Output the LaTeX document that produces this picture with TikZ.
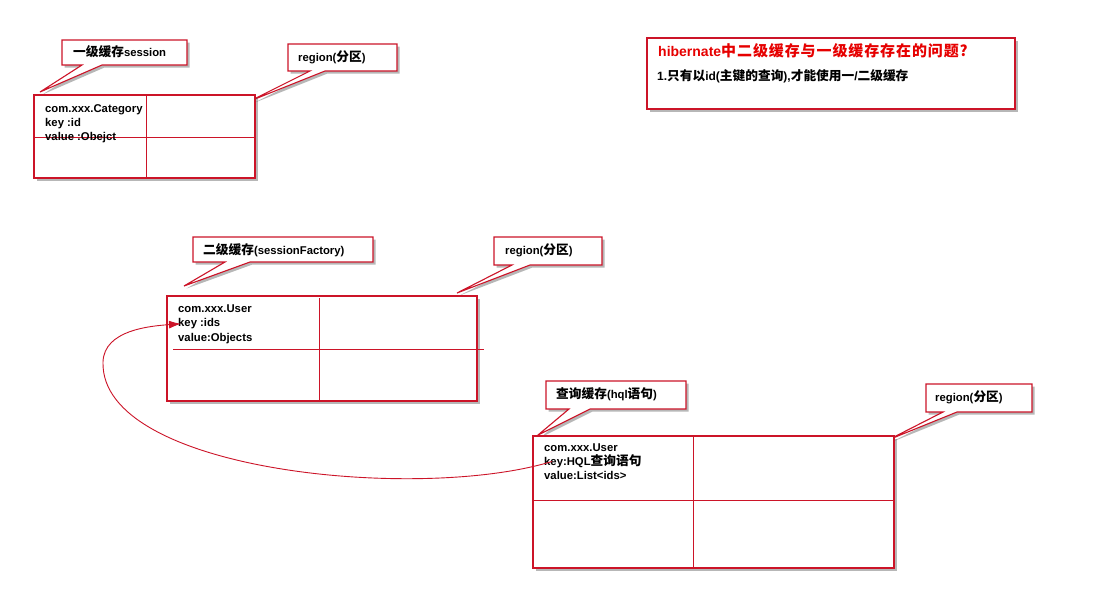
\documentclass[tikz,border=0pt]{standalone}
\usepackage{fontspec}
\setmainfont{Liberation Sans}
\newfontfamily\cjk{Noto Sans CJK SC}
\newfontfamily\cjkwide{Noto Sans CJK SC}[LetterSpace=6]
\usetikzlibrary{shadows,arrows.meta}
\definecolor{lred}{RGB}{204,20,40}
\definecolor{tred}{RGB}{230,0,0}
\newcommand{\zh}[1]{{\fontsize{12.7}{14}\selectfont\cjk\bfseries #1}}
\newcommand{\zhbig}[1]{{\fontsize{15}{18}\selectfont\cjkwide\bfseries #1}}
\tikzset{
 frame/.style={draw=lred, line width=1.1pt, fill=white, drop shadow={shadow xshift=2.5pt, shadow yshift=-2.5pt, opacity=0.4, fill=black!70}},
 divider/.style={draw=lred, line width=1pt},
 txt/.style={anchor=base west, inner sep=0pt, font=\fontsize{11.3}{14}\selectfont\bfseries},
 link/.style={draw=lred, line width=0.9pt, -{Latex[length=12pt,width=8pt]}},
}
\begin{document}
\begin{tikzpicture}[x=1pt,y=-1pt]
\path[use as bounding box, fill=white] (0,0) rectangle (1094,606);

% ---------- first-level cache ----------
\path[frame] (62,40) -- (187,40) -- (187,65) -- (102,65) -- (40,92) -- (82,65) -- (62,65) -- cycle;
\node[txt] (c1) at (73,56.7) {\zh{一级缓存}session};
\path[frame] (288,44) -- (397,44) -- (397,71) -- (325,71) -- (250,101) -- (310,71) -- (288,71) -- cycle;
\node[txt] (r1) at (298,61.7) {region(\zh{分区})};
\path[frame] (34,95) rectangle (255,178);
\draw[divider] (146,95) -- (146,178);
\draw[divider] (34,137) -- (255,137);
\node[txt] (a1) at (45,112.5) {com.xxx.Category};
\node[txt] (a2) at (45,126) {key :id};
\node[txt] (a3) at (45,140) {value :Obejct};

% ---------- title ----------
\path[frame] (647,38) rectangle (1015,109);
\node[anchor=base west, inner sep=0pt, text=tred, font=\fontsize{14}{18}\selectfont\bfseries] (t1) at (658,56.7)
  {hibernate\zhbig{中二级缓存与一级缓存存在的问题?}};
\node[anchor=base west, inner sep=0pt, font=\fontsize{12}{14}\selectfont\bfseries] (t2) at (657,80)
  {1.\zh{只有以}id(\zh{主键的查询}),\zh{才能使用一}/\zh{二级缓存}};

% ---------- second-level cache ----------
\path[frame] (193,237) -- (373,237) -- (373,262) -- (250,262) -- (184,286) -- (225,262) -- (193,262) -- cycle;
\node[txt] (c2) at (203,254) {\zh{二级缓存}(sessionFactory)};
\path[frame] (494,237) -- (602,237) -- (602,265) -- (530,265) -- (457,293) -- (512,265) -- (494,265) -- cycle;
\node[txt] (r2) at (505,254) {region(\zh{分区})};
\path[frame] (167,296) rectangle (477,401);
\draw[divider] (319,298) -- (319,401);
\draw[divider] (173,349) -- (484,349);
\node[txt] (b1) at (178,312.7) {com.xxx.User};
\node[txt] (k2) at (178,326.7) {key :ids};
\node[txt] (b3) at (178,341) {value:Objects};

% ---------- query cache ----------
\path[frame] (546,381) -- (686,381) -- (686,409) -- (590,409) -- (538,435) -- (569,409) -- (546,409) -- cycle;
\node[txt] (c3) at (556,398) {\zh{查询缓存}(hql\zh{语句})};
\path[frame] (926,384) -- (1032,384) -- (1032,412) -- (957,412) -- (888,440) -- (943,412) -- (926,412) -- cycle;
\node[txt] (r3) at (935,401.7) {region(\zh{分区})};
\path[frame] (533,436) rectangle (894,568);
\draw[divider] (693,436) -- (693,568);
\draw[divider] (533,500) -- (894,500);
\node[txt] (q1) at (544,451) {com.xxx.User};
\node[txt] (k3) at (544,465.7) {key:HQL\zh{查询语句}};
\node[txt] (q3) at (544,479) {value:List<ids>};

% ---------- connector ----------
\draw[link] ([xshift=8pt]k3.west) .. controls (420,502) and (100,472) .. (103,362)
  .. controls (104,330) and (150,326) .. ([xshift=3pt]k2.west);
\end{tikzpicture}
\end{document}
